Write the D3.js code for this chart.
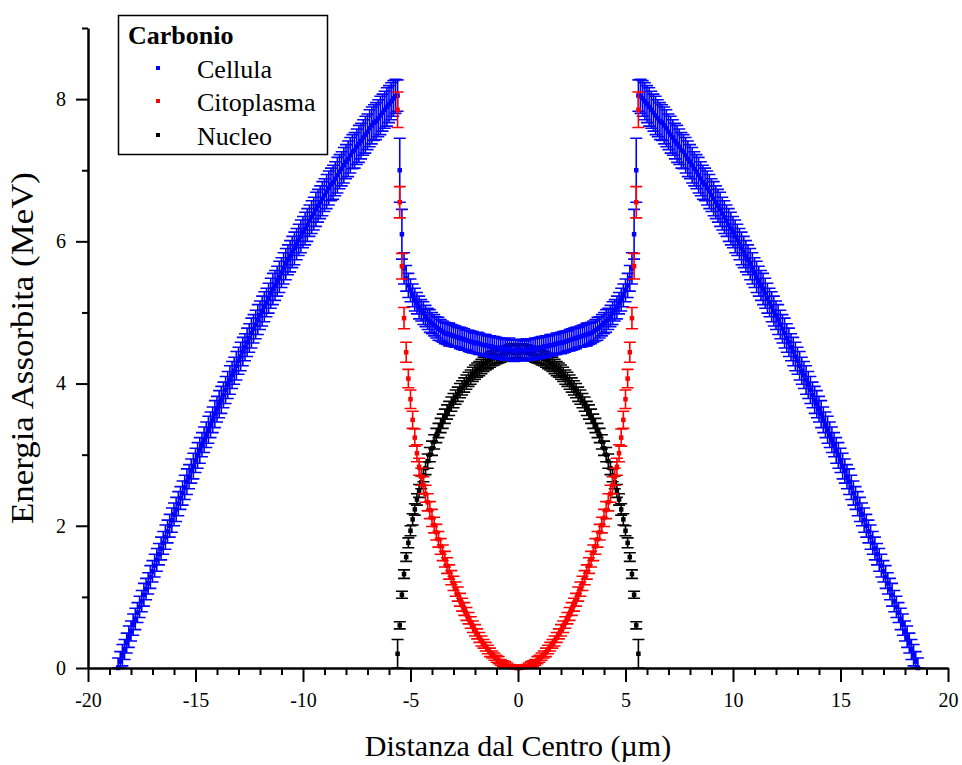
<!DOCTYPE html>
<html>
<head>
<meta charset="utf-8">
<script src="https://cdn.jsdelivr.net/npm/d3@7"></script>
<style>
  html, body { margin: 0; padding: 0; background: #fff; }
  svg { display: block; }
  text { font-family: "Liberation Serif", "Times New Roman", serif; fill: #000; }
</style>
</head>
<body>
<svg id="chart" width="962" height="765"></svg>
<script>
// Sampling positions across the cell (µm), step 0.1
const cellX = d3.range(-186, 187).map(i => i / 10);   // -18.6 .. 18.6
const innerX = d3.range(-56, 57).map(i => i / 10);    // -5.6 .. 5.6

// Cellula: energy (MeV), left branch -18.6 .. -5.6
const cellLeft = [
  0.00,0.09,0.18,0.26,0.35,0.44,0.52,0.61,0.69,0.78,
  0.86,0.94,1.03,1.11,1.19,1.28,1.36,1.44,1.52,1.60,
  1.68,1.76,1.84,1.92,2.00,2.08,2.16,2.23,2.31,2.39,
  2.46,2.54,2.62,2.69,2.77,2.84,2.92,2.99,3.06,3.14,
  3.21,3.28,3.35,3.42,3.49,3.57,3.64,3.71,3.77,3.84,
  3.91,3.98,4.05,4.12,4.18,4.25,4.32,4.38,4.45,4.51,
  4.58,4.64,4.71,4.77,4.83,4.90,4.96,5.02,5.08,5.14,
  5.20,5.27,5.33,5.38,5.44,5.50,5.56,5.62,5.68,5.74,
  5.79,5.85,5.90,5.96,6.02,6.07,6.13,6.18,6.23,6.29,
  6.34,6.39,6.45,6.50,6.55,6.60,6.65,6.70,6.75,6.80,
  6.83,6.88,6.93,6.98,7.02,7.07,7.12,7.16,7.21,7.26,
  7.28,7.33,7.37,7.41,7.46,7.50,7.54,7.59,7.63,7.67,
  7.69,7.73,7.77,7.81,7.85,7.89,7.93,7.97,8.01,8.04,
  8.05
];
// Cellula: central part -5.5 .. 5.5
const cellCore = [
  7.00,6.10,5.62,5.48,5.38,5.31,5.24,5.18,5.13,5.07,
  5.03,4.99,4.95,4.91,4.88,4.85,4.82,4.79,4.77,4.75,
  4.73,4.71,4.70,4.69,4.68,4.67,4.66,4.65,4.64,4.63,
  4.62,4.61,4.60,4.59,4.58,4.57,4.57,4.56,4.55,4.54,
  4.54,4.53,4.52,4.52,4.51,4.50,4.50,4.49,4.49,4.48,
  4.48,4.49,4.47,4.46,4.47,
  4.47,
  4.48,4.47,4.46,4.48,4.48,
  4.48,4.49,4.49,4.50,4.50,4.51,4.52,4.52,4.53,4.54,
  4.54,4.55,4.56,4.57,4.57,4.58,4.59,4.60,4.61,4.62,
  4.63,4.64,4.65,4.66,4.67,4.68,4.69,4.70,4.71,4.73,
  4.75,4.77,4.79,4.82,4.85,4.88,4.91,4.95,4.99,5.03,
  5.07,5.13,5.18,5.24,5.31,5.38,5.48,5.62,6.10,7.00
];
// Cellula: right branch 5.6 .. 18.6
const cellRight = [
  8.05,
  8.04,8.01,7.97,7.93,7.89,7.85,7.81,7.77,7.73,7.69,
  7.67,7.63,7.59,7.54,7.50,7.46,7.41,7.37,7.33,7.28,
  7.26,7.21,7.16,7.12,7.07,7.02,6.98,6.93,6.88,6.83,
  6.80,6.75,6.70,6.65,6.60,6.55,6.50,6.45,6.39,6.34,
  6.29,6.23,6.18,6.13,6.07,6.02,5.96,5.90,5.85,5.79,
  5.74,5.68,5.62,5.56,5.50,5.44,5.38,5.33,5.27,5.20,
  5.14,5.08,5.02,4.96,4.90,4.83,4.77,4.71,4.64,4.58,
  4.51,4.45,4.38,4.32,4.25,4.18,4.12,4.05,3.98,3.91,
  3.84,3.77,3.71,3.64,3.57,3.49,3.42,3.35,3.28,3.21,
  3.14,3.06,2.99,2.92,2.84,2.77,2.69,2.62,2.54,2.46,
  2.39,2.31,2.23,2.16,2.08,2.00,1.92,1.84,1.76,1.68,
  1.60,1.52,1.44,1.36,1.28,1.19,1.11,1.03,0.94,0.86,
  0.78,0.69,0.61,0.52,0.44,0.35,0.26,0.18,0.09,0.00
];
// Cellula: uncertainties
const cellErrLeft = [
  0.14,0.14,0.15,0.14,0.14,0.15,0.14,0.15,0.15,0.14,
  0.15,0.15,0.16,0.15,0.15,0.16,0.15,0.16,0.16,0.15,
  0.16,0.16,0.17,0.16,0.16,0.17,0.16,0.17,0.17,0.16,
  0.17,0.17,0.18,0.17,0.17,0.18,0.17,0.18,0.18,0.17,
  0.18,0.18,0.19,0.18,0.18,0.19,0.18,0.19,0.19,0.18,
  0.19,0.19,0.20,0.19,0.19,0.20,0.19,0.20,0.20,0.19,
  0.20,0.20,0.21,0.20,0.20,0.21,0.20,0.21,0.21,0.20,
  0.21,0.21,0.22,0.21,0.21,0.22,0.21,0.22,0.22,0.21,
  0.22,0.22,0.23,0.22,0.22,0.23,0.22,0.23,0.23,0.22,
  0.23,0.23,0.24,0.23,0.23,0.24,0.23,0.24,0.24,0.23,
  0.24,0.24,0.25,0.24,0.24,0.25,0.24,0.25,0.25,0.24,
  0.25,0.25,0.26,0.25,0.25,0.26,0.25,0.26,0.26,0.25,
  0.26,0.26,0.27,0.26,0.26,0.27,0.26,0.26,0.25,0.24,
  0.22
];
const cellErrCore = [
  0.45,0.35,0.22,0.18,0.17,0.16,0.16,0.16,0.15,0.16,
  0.15,0.16,0.15,0.15,0.16,0.15,0.15,0.15,0.16,0.15,
  0.15,0.15,0.15,0.16,0.15,0.15,0.15,0.14,0.15,0.15,
  0.15,0.14,0.15,0.15,0.15,0.14,0.15,0.15,0.14,0.15,
  0.15,0.14,0.15,0.14,0.15,0.15,0.14,0.15,0.14,0.15,
  0.14,0.15,0.14,0.15,0.14,
  0.15,
  0.14,0.15,0.14,0.15,0.14,
  0.15,0.14,0.15,0.14,0.15,0.15,0.14,0.15,0.14,0.15,
  0.15,0.14,0.15,0.14,0.15,0.15,0.15,0.14,0.15,0.15,
  0.15,0.15,0.14,0.15,0.15,0.15,0.16,0.15,0.15,0.15,
  0.15,0.16,0.15,0.15,0.15,0.16,0.15,0.15,0.16,0.15,
  0.16,0.15,0.16,0.16,0.16,0.17,0.18,0.22,0.35,0.45
];
const cellErrRight = [
  0.22,
  0.24,0.25,0.26,0.26,0.27,0.26,0.26,0.27,0.26,0.26,
  0.25,0.26,0.26,0.25,0.26,0.25,0.25,0.26,0.25,0.25,
  0.24,0.25,0.25,0.24,0.25,0.24,0.24,0.25,0.24,0.24,
  0.23,0.24,0.24,0.23,0.24,0.23,0.23,0.24,0.23,0.23,
  0.22,0.23,0.23,0.22,0.23,0.22,0.22,0.23,0.22,0.22,
  0.21,0.22,0.22,0.21,0.22,0.21,0.21,0.22,0.21,0.21,
  0.20,0.21,0.21,0.20,0.21,0.20,0.20,0.21,0.20,0.20,
  0.19,0.20,0.20,0.19,0.20,0.19,0.19,0.20,0.19,0.19,
  0.18,0.19,0.19,0.18,0.19,0.18,0.18,0.19,0.18,0.18,
  0.17,0.18,0.18,0.17,0.18,0.17,0.17,0.18,0.17,0.17,
  0.16,0.17,0.17,0.16,0.17,0.16,0.16,0.17,0.16,0.16,
  0.15,0.16,0.16,0.15,0.16,0.15,0.15,0.16,0.15,0.15,
  0.14,0.15,0.15,0.14,0.15,0.14,0.14,0.15,0.14,0.14
];

// Citoplasma: energy (MeV), -5.6 .. 5.6
const cytoValues = [
  7.85,6.55,5.65,4.92,4.44,4.07,3.78,3.49,3.24,3.02,
  2.83,2.69,2.57,2.45,2.33,2.22,2.11,2.01,1.91,1.81,
  1.71,1.62,1.53,1.44,1.35,1.27,1.19,1.11,1.04,0.96,
  0.89,0.83,0.76,0.70,0.64,0.58,0.53,0.48,0.43,0.38,
  0.34,0.30,0.26,0.22,0.19,0.16,0.13,0.11,0.08,0.06,
  0.05,0.03,0.02,0.01,0.01,0.00,
  0.00,
  0.00,0.01,0.01,0.02,0.03,0.05,
  0.06,0.08,0.11,0.13,0.16,0.19,0.22,0.26,0.30,0.34,
  0.38,0.43,0.48,0.53,0.58,0.64,0.70,0.76,0.83,0.89,
  0.96,1.04,1.11,1.19,1.27,1.35,1.44,1.53,1.62,1.71,
  1.81,1.91,2.01,2.11,2.22,2.33,2.45,2.57,2.69,2.83,
  3.02,3.24,3.49,3.78,4.07,4.44,4.92,5.65,6.55,7.85
];
const cytoErr = [
  0.25,0.22,0.18,0.15,0.14,0.13,0.13,0.12,0.12,0.12,
  0.12,0.12,0.12,0.12,0.12,0.12,0.12,0.11,0.11,0.11,
  0.11,0.11,0.11,0.11,0.10,0.10,0.10,0.10,0.10,0.09,
  0.09,0.09,0.09,0.08,0.08,0.08,0.08,0.07,0.07,0.07,
  0.06,0.06,0.06,0.06,0.05,0.05,0.05,0.05,0.04,0.04,
  0.04,0.04,0.03,0.03,0.03,0.03,
  0.03,
  0.03,0.03,0.03,0.03,0.04,0.04,
  0.04,0.04,0.05,0.05,0.05,0.05,0.06,0.06,0.06,0.06,
  0.07,0.07,0.07,0.08,0.08,0.08,0.08,0.09,0.09,0.09,
  0.09,0.10,0.10,0.10,0.10,0.10,0.11,0.11,0.11,0.11,
  0.11,0.11,0.11,0.12,0.12,0.12,0.12,0.12,0.12,0.12,
  0.12,0.12,0.12,0.13,0.13,0.14,0.15,0.18,0.22,0.25
];

// Nucleo: energy (MeV), -5.6 .. 5.6
const nucValues = [
  0.20,0.60,1.03,1.32,1.56,1.76,1.93,2.09,2.23,2.37,
  2.49,2.61,2.71,2.81,2.91,3.00,3.09,3.18,3.27,3.34,
  3.41,3.47,3.54,3.60,3.65,3.71,3.76,3.81,3.85,3.90,
  3.94,3.98,4.02,4.06,4.09,4.13,4.16,4.19,4.21,4.24,
  4.27,4.29,4.31,4.33,4.35,4.36,4.38,4.39,4.40,4.42,
  4.42,4.43,4.44,4.46,4.43,4.45,
  4.45,
  4.44,4.46,4.44,4.44,4.43,4.42,
  4.42,4.40,4.39,4.38,4.36,4.35,4.33,4.31,4.29,4.27,
  4.24,4.21,4.19,4.16,4.13,4.09,4.06,4.02,3.98,3.94,
  3.90,3.85,3.81,3.76,3.71,3.65,3.60,3.54,3.47,3.41,
  3.34,3.27,3.18,3.09,3.00,2.91,2.81,2.71,2.61,2.49,
  2.37,2.23,2.09,1.93,1.76,1.56,1.32,1.03,0.60,0.20
];
const nucErr = [
  0.20,0.05,0.05,0.06,0.06,0.07,0.07,0.08,0.08,0.08,
  0.09,0.09,0.09,0.09,0.10,0.10,0.10,0.10,0.10,0.10,
  0.10,0.10,0.10,0.10,0.10,0.10,0.10,0.10,0.10,0.10,
  0.10,0.10,0.10,0.10,0.10,0.10,0.10,0.10,0.10,0.10,
  0.10,0.10,0.10,0.10,0.10,0.10,0.10,0.10,0.10,0.10,
  0.10,0.10,0.10,0.10,0.10,0.10,
  0.10,
  0.10,0.10,0.10,0.10,0.10,0.10,
  0.10,0.10,0.10,0.10,0.10,0.10,0.10,0.10,0.10,0.10,
  0.10,0.10,0.10,0.10,0.10,0.10,0.10,0.10,0.10,0.10,
  0.10,0.10,0.10,0.10,0.10,0.10,0.10,0.10,0.10,0.10,
  0.10,0.10,0.10,0.10,0.10,0.10,0.09,0.09,0.09,0.09,
  0.08,0.08,0.08,0.07,0.07,0.06,0.06,0.05,0.05,0.20
];

// Axis ticks and labels
const xMajorTicks = [-20, -15, -10, -5, 0, 5, 10, 15, 20];
const xTickLabels = ["-20", "-15", "-10", "-5", "0", "5", "10", "15", "20"];
const xMinorTicks = d3.range(-20, 21).filter(v => v % 5 !== 0);
const yMajorTicks = [0, 2, 4, 6, 8];
const yTickLabels = ["0", "2", "4", "6", "8"];
const yMinorTicks = [1, 3, 5, 7, 9];

const seriesNames = ["Cellula", "Citoplasma", "Nucleo"];
const seriesColors = ["#0000ff", "#ff0000", "#000000"];
const legendTitle = "Carbonio";
const xTitle = "Distanza dal Centro (\u00b5m)";
const yTitle = "Energia Assorbita (MeV)";

// ---- drawing ----
const svg = d3.select("#chart");
const plotLeft = 88, plotRight = 948, plotTop = 28, plotBottom = 668;

const x = d3.scaleLinear().domain([-20, 20]).range([plotLeft, plotRight]);
const y = d3.scaleLinear().domain([0, 9]).range([plotBottom, plotTop]);

const cellValues = cellLeft.concat(cellCore, cellRight);
const cellErr = cellErrLeft.concat(cellErrCore, cellErrRight);

const series = [
  { name: seriesNames[0], color: seriesColors[0], xs: cellX, ys: cellValues, es: cellErr },
  { name: seriesNames[1], color: seriesColors[1], xs: innerX, ys: cytoValues, es: cytoErr },
  { name: seriesNames[2], color: seriesColors[2], xs: innerX, ys: nucValues, es: nucErr }
];

const capHalf = 6;
const markerSize = 4.5;

// nucleus underneath, then whole cell, cytoplasm on top
const drawOrder = [2, 0, 1];
const plot = svg.append("g").attr("class", "plot");
drawOrder.forEach(k => {
  const s = series[k];
  const pts = s.xs.map((xv, i) => ({ x: xv, y: s.ys[i], e: s.es[i] }));
  const g = plot.append("g").attr("class", "series");
  g.selectAll("path.err").data(pts).join("path")
    .attr("class", "err")
    .attr("fill", "none")
    .attr("stroke", s.color)
    .attr("stroke-width", 1.6)
    .attr("d", d => {
      const px = x(d.x), y1 = y(d.y + d.e), y0 = y(Math.max(0, d.y - d.e));
      return `M${px - capHalf},${y1}H${px + capHalf}M${px},${y1}V${y0}M${px - capHalf},${y0}H${px + capHalf}`;
    });
  g.selectAll("rect.pt").data(pts).join("rect")
    .attr("class", "pt")
    .attr("x", d => x(d.x) - markerSize / 2)
    .attr("y", d => y(d.y) - markerSize / 2)
    .attr("width", markerSize)
    .attr("height", markerSize)
    .attr("fill", s.color);
});

// Axes
svg.append("g").attr("transform", `translate(0,${plotBottom})`)
  .call(d3.axisBottom(x).tickValues(xMajorTicks).tickSize(14).tickSizeOuter(0).tickPadding(11)
    .tickFormat((d, i) => xTickLabels[i]));
svg.append("g").attr("transform", `translate(0,${plotBottom})`)
  .call(d3.axisBottom(x).tickValues(xMinorTicks).tickSize(7).tickSizeOuter(0).tickFormat(""))
  .select(".domain").remove();

svg.append("g").attr("transform", `translate(${plotLeft},0)`)
  .call(d3.axisLeft(y).tickValues(yMajorTicks).tickSize(12).tickSizeOuter(0).tickPadding(10)
    .tickFormat((d, i) => yTickLabels[i]));
svg.append("g").attr("transform", `translate(${plotLeft},0)`)
  .call(d3.axisLeft(y).tickValues(yMinorTicks).tickSize(6).tickSizeOuter(0).tickFormat(""))
  .select(".domain").remove();

svg.selectAll(".domain").attr("stroke", "#000").attr("stroke-width", 2.5);
svg.selectAll(".tick line").attr("stroke", "#000").attr("stroke-width", 2);
svg.selectAll(".tick text")
  .style("font-family", '"Liberation Serif", "Times New Roman", serif')
  .style("font-size", "20px").attr("fill", "#000");

// Axis titles
svg.append("text")
  .attr("x", (plotLeft + plotRight) / 2).attr("y", 756)
  .attr("text-anchor", "middle")
  .style("font-size", "30px")
  .text(xTitle);
svg.append("text")
  .attr("transform", `translate(33,${(plotTop + plotBottom) / 2}) rotate(-90)`)
  .attr("text-anchor", "middle")
  .attr("textLength", 352)
  .attr("lengthAdjust", "spacingAndGlyphs")
  .style("font-size", "31px")
  .text(yTitle);

// Legend
const lg = svg.append("g").attr("class", "legend");
lg.append("rect")
  .attr("x", 118.5).attr("y", 15.5).attr("width", 209).attr("height", 139)
  .attr("fill", "#fff").attr("stroke", "#000").attr("stroke-width", 1.5);
lg.append("text").attr("x", 128).attr("y", 44)
  .style("font-size", "26px").style("font-weight", "bold").text(legendTitle);
const legendRows = [78, 111, 145];
series.forEach((s, i) => {
  lg.append("rect")
    .attr("x", 158 - 2).attr("y", legendRows[i] - 12).attr("width", 4).attr("height", 4)
    .attr("fill", s.color);
  lg.append("text").attr("x", 197).attr("y", legendRows[i])
    .style("font-size", "26px").text(s.name);
});
</script>
</body>
</html>
